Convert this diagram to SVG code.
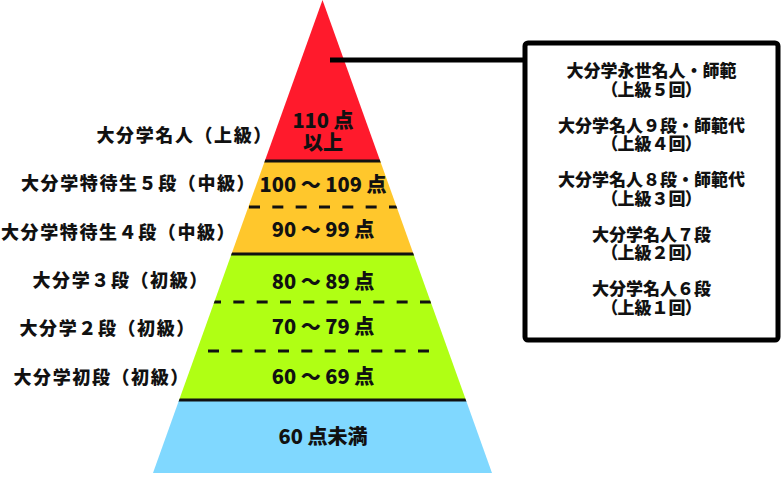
<svg xmlns="http://www.w3.org/2000/svg" width="782" height="477" viewBox="0 0 782 477">
  <style>
    text { font-family: "Noto Sans CJK JP", "Noto Sans", sans-serif; font-weight: 900; fill: #111; }
    .tier { font-size: 20px; text-anchor: middle; }
    .lbl { font-size: 18px; letter-spacing: 1.6px; }
    .box { font-size: 17px; text-anchor: middle; }
    .p { font-feature-settings: "palt" 1; }
    .solid { stroke: #111; stroke-width: 3; fill: none; }
    .dash { stroke: #111; stroke-width: 3; fill: none; stroke-dasharray: 11 12.33; }
  </style>
  <defs>
    <clipPath id="pyr">
      <polygon points="322.5,0 492,473 153,473"/>
    </clipPath>
  </defs>
  <rect width="782" height="477" fill="#fff"/>
  <g id="tier-red">
    <polygon points="322.5,0 380.2,161 264.8,161" fill="#FF1A2C"/>
    <text class="tier" x="323" y="128">110 点</text>
    <text class="tier" x="323" y="150">以上</text>
  </g>
  <g id="tier-yellow">
    <polygon points="264.8,161 380.2,161 413.5,254 231.5,254" fill="#FFC72C"/>
    <text class="tier" x="323" y="192">100 ～ 109 点</text>
    <text class="tier" x="323" y="237">90 ～ 99 点</text>
  </g>
  <g id="tier-green">
    <polygon points="231.5,254 413.5,254 465.9,400 179.1,400" fill="#B0FF14"/>
    <text class="tier" x="323" y="289">80 ～ 89 点</text>
    <text class="tier" x="323" y="334">70 ～ 79 点</text>
    <text class="tier" x="323" y="384">60 ～ 69 点</text>
  </g>
  <g id="tier-blue">
    <polygon points="179.1,400 465.9,400 492,473 153,473" fill="#80D8FF"/>
    <text class="tier" x="323" y="444">60 点未満</text>
  </g>
  <g id="dividers" clip-path="url(#pyr)">
    <line class="solid" x1="150" y1="161" x2="500" y2="161"/>
    <line class="solid" x1="150" y1="254" x2="500" y2="254"/>
    <line class="solid" x1="150" y1="400" x2="500" y2="400"/>
    <line class="dash" x1="249" y1="207" x2="400" y2="207"/>
    <line class="dash" x1="210" y1="302" x2="435" y2="302"/>
    <line class="dash" x1="208" y1="351" x2="440" y2="351"/>
  </g>
  <g id="labels">
    <text class="lbl" x="96.5" y="141.5">大分学名人（上級）</text>
    <text class="lbl" x="21" y="189.5">大分学特待生５段（中級）</text>
    <text class="lbl" x="1" y="238.5">大分学特待生４段（中級）</text>
    <text class="lbl" x="32.5" y="286.5">大分学３段（初級）</text>
    <text class="lbl" x="19.5" y="334.5">大分学２段（初級）</text>
    <text class="lbl" x="13.5" y="383.5">大分学初段（初級）</text>
  </g>
  <g id="connectors">
    <line x1="330" y1="60" x2="525" y2="60" stroke="#000" stroke-width="5"/>
  </g>
  <g id="rank-box">
    <rect x="525" y="43" width="253" height="297" rx="3" fill="#fff" stroke="#000" stroke-width="5"/>
    <text class="box" x="651.5" y="77">大分学永世名人・師範</text>
    <text class="box" x="651.5" y="95.5"><tspan class="p">（</tspan>上級５回<tspan class="p">）</tspan></text>
    <text class="box" x="651.5" y="131.5">大分学名人９段・師範代</text>
    <text class="box" x="651.5" y="150"><tspan class="p">（</tspan>上級４回<tspan class="p">）</tspan></text>
    <text class="box" x="651.5" y="186">大分学名人８段・師範代</text>
    <text class="box" x="651.5" y="204.5"><tspan class="p">（</tspan>上級３回<tspan class="p">）</tspan></text>
    <text class="box" x="651.5" y="240.5">大分学名人７段</text>
    <text class="box" x="651.5" y="259"><tspan class="p">（</tspan>上級２回<tspan class="p">）</tspan></text>
    <text class="box" x="651.5" y="295">大分学名人６段</text>
    <text class="box" x="651.5" y="313.5"><tspan class="p">（</tspan>上級１回<tspan class="p">）</tspan></text>
  </g>
</svg>
